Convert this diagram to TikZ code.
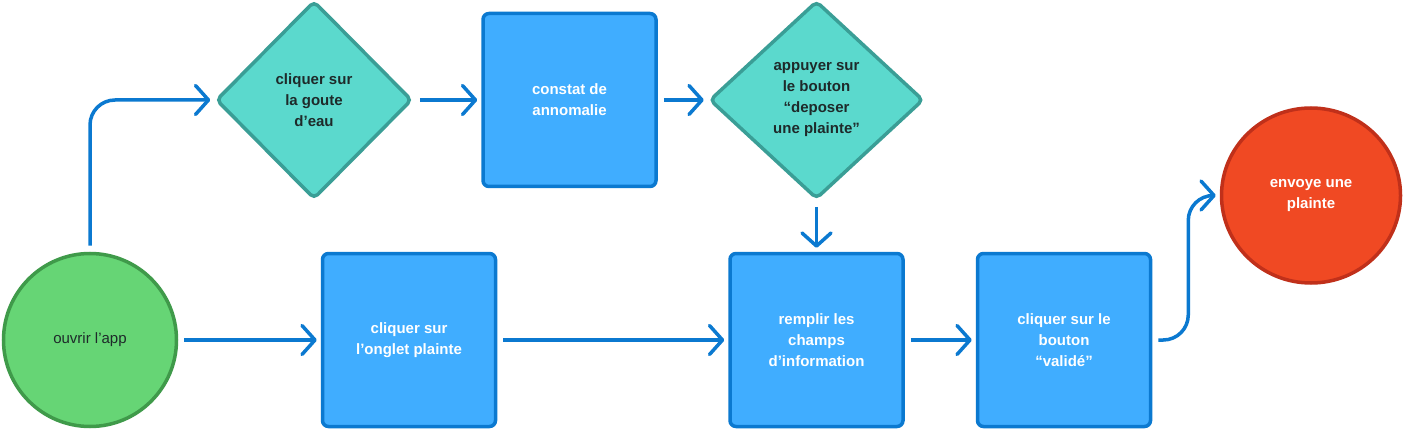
\documentclass[tikz,border=0pt]{standalone}
\usepackage{fontspec}
\setmainfont{Liberation Sans}
\usetikzlibrary{positioning,shapes.geometric,arrows.meta}
\definecolor{flowline}{HTML}{0B79D0}
\definecolor{boxfill}{HTML}{40ADFF}
\definecolor{diafill}{HTML}{5BD9CD}
\definecolor{dialine}{HTML}{3A9E96}
\definecolor{greenfill}{HTML}{66D575}
\definecolor{greenline}{HTML}{3F9A4A}
\definecolor{redfill}{HTML}{F04923}
\definecolor{redline}{HTML}{C0301A}
\definecolor{darktext}{HTML}{1E2A2A}
\tikzset{ovalp/.style={
        draw=greenline,
        fill=greenfill,
        circle,
        minimum size=173pt,
        line width=3.5pt,
        text=darktext,
        font=\fontsize{15}{21}\selectfont } }
\tikzset{choicep/.style={
        draw=dialine,
        fill=diafill,
        diamond,
        inner sep=2pt,
        minimum width=196pt,
        minimum height=198pt,
        rounded corners=5pt,
        line width=3.5pt,
        align=center,
        text=darktext,
        font=\fontsize{15}{21}\selectfont\bfseries } }
\tikzset{actionp/.style={
        draw=flowline,
        fill=boxfill,
        rectangle,
        minimum width=173pt,
        minimum height=173pt,
        rounded corners=6pt,
        line width=3.5pt,
        align=center,
        text=white,
        font=\fontsize{15}{21}\selectfont\bfseries } }
\tikzset{endp/.style={
        draw=redline,
        fill=redfill,
        ellipse,
        minimum width=179pt,
        minimum height=175pt,
        line width=3.5pt,
        align=center,
        text=white,
        font=\fontsize{15}{21}\selectfont\bfseries } }
\tikzset{flow/.style={
        draw=flowline,
        line width=3.5pt,
        -{Straight Barb[length=13pt,width=29pt,round]},
        shorten <=6pt,
        shorten >=4pt } }

\begin{document}
\begin{tikzpicture}[x=1pt,y=-1pt]

\useasboundingbox (0,0) rectangle (1404,430);

%%BOTTOM ROW
\node[ovalp] (ouvrir) at (90,340) {ouvrir l’app};
\node[actionp] (onglet) [right = 142.5pt of ouvrir] {cliquer sur\\l’onglet plainte};
\node[actionp] (remplir) [right = 231pt of onglet] {remplir les\\champs\\d’information};
\node[actionp] (valide) [right = 71pt of remplir] {cliquer sur le\\bouton\\“validé”};

%%TOP ROW
\node[choicep, minimum width=214pt] (deposer) [above = 51pt of remplir] {appuyer sur\\le bouton\\“deposer\\une plainte”};
\node[actionp] (constat) [left = 50pt of deposer] {constat de\\annomalie};
\node[choicep] (goutte) [left = 67.5pt of constat] {cliquer sur\\la goute\\d’eau};

%%END
\node[endp] (envoi) [right = 67.5pt of valide, yshift=144.5pt] {envoye une\\plainte};

\path[flow, rounded corners=25pt] (ouvrir.north) |- (goutte.west);
\path[flow] (goutte) -- (constat);
\path[flow] (constat) -- (deposer);
\path[flow] (deposer) -- (remplir);
\path[flow] (ouvrir) -- (onglet);
\path[flow] (onglet) -- (remplir);
\path[flow] (remplir) -- (valide);
\path[flow, rounded corners=25pt] (valide.east) -- ++(36,0) |- (envoi.west);

\end{tikzpicture}
\end{document}
